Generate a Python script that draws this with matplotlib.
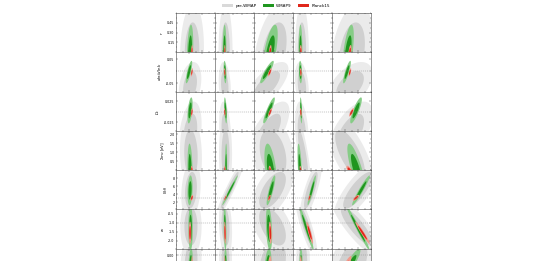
import numpy as np
import matplotlib.pyplot as plt
from matplotlib.ticker import AutoMinorLocator
from matplotlib.patches import Patch

# parameter names / ranges
y_names = [r'$r$', r'$dn_s/d\ln k$', r'$\Omega_k$', r'$\Sigma m_\nu$ [eV]', r'$N_{\rm eff}$', r'$w$', '']
xlims = [(0.010, 0.040), (0.02, 0.42), (0.80, 1.20), (1.034, 1.069), (40, 100)]
ylims = [(0, 0.6), (-0.085, 0.08), (-0.045, 0.048), (0, 2.2), (0.2, 10), (-2.45, -0.25), (-0.1, 0.019)]
xticks = [[0.02, 0.03], [0.1, 0.2, 0.3], [0.9, 1.0, 1.1], [1.04, 1.05, 1.06], [60, 80]]
yticks = [[0.15, 0.30, 0.45], [-0.05, 0.05], [-0.025, 0.025], [0.5, 1.0, 1.5, 2.0],
          [2, 4, 6, 8], [-2.0, -1.5, -1.0, -0.5], [0.00]]
ytick_labels = [['0.15', '0.30', '0.45'], ['-0.05', '0.05'], ['-0.025', '0.025'],
                ['0.5', '1.0', '1.5', '2.0'], ['2', '4', '6', '8'],
                ['-2.0', '-1.5', '-1.0', '-0.5'], ['0.00']]
ref_lines = [None, 0.0, 0.0, None, 3.046, -1.0, 0.0]

# pre-WMAP
pre_ymean = [0.0, -0.06, -0.05, 0.9, 5.0, -1.2, -0.03]
pre_ysig = [0.30, 0.04, 0.03, 0.9, 3.0, 0.7, 0.05]
pre_xmean = [[0.0223, 0.128, 1.005, 1.042, 70.8],
             [0.0208, 0.120, 0.930, 1.042, 67.7],
             [0.0210, 0.125, 0.940, 1.042, 68.0],
             [0.0215, 0.128, 0.995, 1.043, 67.7],
             [0.0215, 0.170, 0.990, 1.050, 80.0],
             [0.0215, 0.128, 0.990, 1.046, 78.0],
             [0.0215, 0.128, 0.990, 1.043, 70.0]]
pre_xsig = [[0.0037, 0.029, 0.085, 0.0025, 13.0],
            [0.0035, 0.025, 0.090, 0.0025, 14.0],
            [0.0035, 0.025, 0.090, 0.0025, 14.0],
            [0.0034, 0.027, 0.090, 0.0030, 15.0],
            [0.0030, 0.060, 0.090, 0.0040, 15.0],
            [0.0033, 0.027, 0.090, 0.0040, 16.0],
            [0.0033, 0.027, 0.090, 0.0025, 16.0]]
pre_rho = [[0.1, 0.0, 0.4, 0.0, 0.3],
           [0.3, -0.2, 0.7, -0.3, 0.5],
           [0.3, -0.3, 0.7, -0.3, 0.6],
           [-0.1, 0.0, -0.3, -0.8, -0.7],
           [0.2, 0.95, 0.6, 0.8, 0.8],
           [0.0, -0.2, -0.5, -0.85, -0.85],
           [0.2, 0.0, 0.3, 0.0, 0.5]]

# WMAP9
wmap_ymean = [0.0, -0.003, 0.0035, 0.0, 4.97, -1.30, -0.03]
wmap_ysig = [0.17, 0.019, 0.0124, 0.6, 1.5, 0.5, 0.02]
wmap_xmean = [[0.0208, 0.117, 0.964, 1.0407, 64.6],
              [0.0200, 0.1226, 0.933, 1.0407, 63.1],
              [0.0208, 0.128, 0.954, 1.0412, 77.0],
              [0.0208, 0.133, 0.971, 1.0403, 78.0],
              [0.0208, 0.174, 0.974, 1.0508, 84.6],
              [0.0212, 0.1226, 0.954, 1.0461, 80.0],
              [0.0212, 0.128, 0.944, 1.0412, 67.7]]
wmap_xsig = [[0.0010, 0.008, 0.032, 0.0007, 3.6],
             [0.0010, 0.006, 0.028, 0.0006, 2.4],
             [0.0008, 0.006, 0.024, 0.0004, 3.6],
             [0.0008, 0.005, 0.026, 0.0009, 5.8],
             [0.0008, 0.032, 0.018, 0.0015, 5.5],
             [0.0007, 0.006, 0.013, 0.0026, 7.2],
             [0.0007, 0.006, 0.014, 0.0006, 6.5]]
wmap_rho = [[0.3, 0.1, 0.65, 0.0, 0.6],
            [0.8, -0.3, 0.9, -0.2, 0.85],
            [0.5, -0.5, 0.9, -0.4, 0.85],
            [-0.2, 0.1, -0.5, -0.6, -0.8],
            [0.2, 0.985, 0.85, 0.93, 0.96],
            [0.0, -0.3, -0.3, -0.97, -0.985],
            [0.3, 0.0, 0.3, 0.0, 0.9]]

# Planck15
planck_ymean = [0.0, -0.004, -0.001, 0.0, 3.1, -1.55, -0.04]
planck_ysig = [0.045, 0.007, 0.004, 0.1, 0.3, 0.25, 0.015]
planck_xmean = [[0.0222, 0.120, 0.965, 1.0410, 67.5],
                [0.0222, 0.120, 0.962, 1.0410, 67.5],
                [0.0222, 0.120, 0.965, 1.0410, 70.0],
                [0.0222, 0.120, 0.966, 1.0409, 67.0],
                [0.0222, 0.126, 0.957, 1.0487, 77.0],
                [0.0208, 0.1226, 0.967, 1.0490, 87.0],
                [0.0222, 0.120, 0.960, 1.0410, 60.0]]
planck_xsig = [[0.0003, 0.003, 0.006, 0.0004, 1.0],
               [0.0003, 0.003, 0.008, 0.0003, 0.8],
               [0.0003, 0.003, 0.008, 0.0003, 1.5],
               [0.0003, 0.003, 0.006, 0.0004, 2.0],
               [0.0004, 0.006, 0.006, 0.0004, 2.0],
               [0.0004, 0.004, 0.006, 0.0012, 4.5],
               [0.0003, 0.003, 0.008, 0.0004, 4.0]]
planck_rho = [[0.3, 0.1, 0.5, 0.0, 0.5],
              [0.6, -0.3, 0.8, -0.2, 0.7],
              [0.5, -0.4, 0.8, -0.3, 0.8],
              [-0.2, 0.1, -0.4, -0.5, -0.7],
              [0.5, 0.9, 0.7, 0.7, 0.8],
              [0.0, -0.3, -0.3, -0.9, -0.97],
              [0.3, 0.0, 0.3, 0.0, 0.9]]

datasets = [
    ('pre-WMAP', pre_xmean, pre_xsig, pre_rho, pre_ymean, pre_ysig, ['#ebebeb', '#d0d0d0']),
    ('WMAP9', wmap_xmean, wmap_xsig, wmap_rho, wmap_ymean, wmap_ysig, ['#86cc86', '#1f961f']),
    ('Planck15', planck_xmean, planck_xsig, planck_rho, planck_ymean, planck_ysig, ['#f19a8c', '#e0271b']),
]

k95, k68 = 2.48, 1.52   # 2D 95% / 68% radii in sigma
t = np.linspace(0, 2 * np.pi, 200)


def ellipse(mx, my, sx, sy, rho, k):
    cov = np.array([[sx * sx, rho * sx * sy], [rho * sx * sy, sy * sy]])
    L = np.linalg.cholesky(cov)
    p = L @ np.vstack([np.cos(t), np.sin(t)]) * k
    return mx + p[0], my + p[1]


fig = plt.figure(figsize=(5.33, 2.61), dpi=100)
left0, pw = 176 / 533, 39 / 533
top0, ph = 1 - 13 / 261, 39.3 / 261

for i in range(7):
    for j in range(5):
        ax = fig.add_axes([left0 + j * pw, top0 - (i + 1) * ph, pw, ph])
        for name, xm, xs, rh, ym, ys, cols in datasets:
            for k, c in zip([k95, k68], cols):
                ex, ey = ellipse(xm[i][j], ym[i], xs[i][j], ys[i], rh[i][j], k)
                ax.fill(ex, ey, color=c, lw=0)
        if ref_lines[i] is not None:
            ax.axhline(ref_lines[i], color='#888888', ls='--', lw=0.35, dashes=(2, 2))
        ax.set_xlim(xlims[j])
        ax.set_ylim(ylims[i])
        ax.set_xticks(xticks[j])
        ax.set_yticks(yticks[i])
        ax.xaxis.set_minor_locator(AutoMinorLocator(2))
        ax.yaxis.set_minor_locator(AutoMinorLocator(2))
        ax.tick_params(which='both', direction='in', top=True, right=True,
                       width=0.3, color='#444444', labelsize=2.3, pad=1)
        ax.tick_params(which='major', length=1.6)
        ax.tick_params(which='minor', length=0.9)
        ax.set_xticklabels([])
        if j == 0:
            ax.set_yticklabels(ytick_labels[i])
            if y_names[i]:
                ax.set_ylabel(y_names[i], fontsize=2.8, labelpad=1.5)
        else:
            ax.set_yticklabels([])
        for s in ax.spines.values():
            s.set_linewidth(0.4)
            s.set_color('#444444')

handles = [Patch(color='#d9d9d9', lw=0), Patch(color='#1f961f', lw=0), Patch(color='#e0271b', lw=0)]
fig.legend(handles, ['pre-WMAP', 'WMAP9', 'Planck15'], loc='center', bbox_to_anchor=(0.518, 0.978),
           ncol=3, fontsize=3, frameon=False, handlelength=2.6, handleheight=0.7,
           columnspacing=1.5, handletextpad=0.6)

fig.savefig('out.png', dpi=100)
